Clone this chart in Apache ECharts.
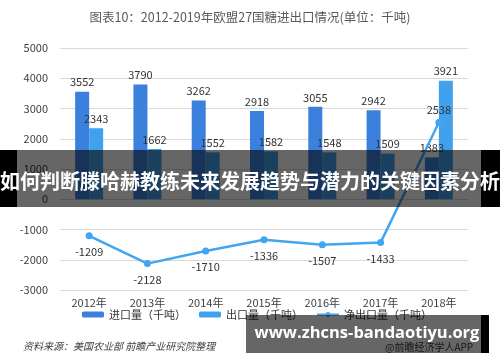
<!DOCTYPE html>
<html>
<head>
<meta charset="utf-8">
<script src="https://cdn.jsdelivr.net/npm/echarts@6/dist/echarts.min.js"></script>
<style>
html,body{margin:0;padding:0;background:#fff;}
#main{width:500px;height:362px;}
</style>
</head>
<body>
<div id="main"></div>
<script>
var categories = ['2012年','2013年','2014年','2015年','2016年','2017年','2018年'];
var importVals = [3552, 3790, 3262, 2918, 3055, 2942, 1383];
var exportVals = [2343, 1662, 1552, 1582, 1548, 1509, 3921];
var netVals = [-1209, -2128, -1710, -1336, -1507, -1433, 2538];
var seriesNames = ['进口量（千吨）', '出口量（千吨）', '净出口量（千吨）'];
var titleText = '图表10：2012-2019年欧盟27国糖进出口情况(单位：千吨)';
var sourceText = '资料来源：美国农业部 前瞻产业研究院整理';
var brandText = '@前瞻经济学人APP';
var bannerText = '如何判断滕哈赫教练未来发展趋势与潜力的关键因素分析';
var urlText = 'www.zhcns-bandaotiyu.org';

var FONT = '"Noto Sans CJK SC", "Noto Sans", sans-serif';
var chart = echarts.init(document.getElementById('main'), null, {renderer: 'canvas'});

var netData = netVals.map(function (v, i) {
  return (i === netVals.length - 1) ? {value: v, label: {position: 'top', distance: 4}} : v;
});

chart.setOption({
  animation: false,
  backgroundColor: '#ffffff',
  textStyle: {fontFamily: FONT},
  title: {
    text: titleText,
    left: 'center',
    top: 6,
    textStyle: {fontSize: 12.5, fontWeight: 'normal', color: '#595959', fontFamily: FONT}
  },
  grid: {left: 60, right: 32, top: 48, bottom: 72, containLabel: false},
  legend: {
    data: seriesNames,
    left: 77,
    top: 304,
    itemWidth: 22,
    itemHeight: 6,
    itemGap: 13,
    textStyle: {fontSize: 11, color: '#333', fontFamily: FONT}
  },
  xAxis: {
    type: 'category',
    data: categories,
    axisLine: {onZero: true, lineStyle: {color: '#d9d9d9'}},
    axisTick: {show: false},
    axisLabel: {fontSize: 11, color: '#404040', margin: 7, fontFamily: FONT}
  },
  yAxis: {
    type: 'value',
    min: -3000,
    max: 5000,
    interval: 1000,
    axisLine: {show: false},
    axisTick: {show: false},
    axisLabel: {fontSize: 11, color: '#404040', margin: 12, fontFamily: FONT,
      formatter: function (v) { return String(v); }},
    splitLine: {lineStyle: {color: '#d9d9d9', width: 1}}
  },
  series: [
    {
      name: seriesNames[0],
      type: 'bar',
      data: importVals,
      barWidth: 14,
      barGap: '0%',
      itemStyle: {color: '#3c80dd'},
      label: {show: true, position: 'top', fontSize: 11, color: '#333', distance: 4}
    },
    {
      name: seriesNames[1],
      type: 'bar',
      data: exportVals,
      barWidth: 14,
      barGap: '0%',
      itemStyle: {color: '#42a1ec'},
      label: {show: true, position: 'top', fontSize: 11, color: '#333', distance: 4}
    },
    {
      name: seriesNames[2],
      type: 'line',
      data: netData,
      symbol: 'circle',
      symbolSize: 7,
      lineStyle: {color: '#42a5f0', width: 2.5},
      itemStyle: {color: '#42a5f0'},
      label: {show: true, position: 'bottom', fontSize: 11, color: '#333', distance: 7},
      z: 5
    }
  ],
  graphic: [
    {type: 'text', left: 23, top: 341, style: {text: sourceText, fontStyle: 'italic', fontSize: 10, fontFamily: FONT, fill: '#404040'}},
    {type: 'text', left: 385, top: 342, style: {text: brandText, fontSize: 10, fontFamily: FONT, fill: '#404040'}},
    {type: 'rect', shape: {x: 0, y: 150, width: 17, height: 57}, style: {fill: '#000'}, z: 100},
    {type: 'rect', shape: {x: 481, y: 150, width: 19, height: 57}, style: {fill: '#000'}, z: 100},
    {type: 'rect', shape: {x: 17, y: 150, width: 464, height: 57}, style: {fill: 'rgba(0,0,0,0.6)'}, z: 100},
    {type: 'text', x: 250, y: 181, style: {text: bannerText, fontSize: 20, fontWeight: 'bold', fontFamily: FONT, fill: '#fff', align: 'center', verticalAlign: 'middle'}, z: 101},
    {type: 'rect', shape: {x: 246, y: 315, width: 235, height: 38}, style: {fill: 'rgba(0,0,0,0.6)'}, z: 100},
    {type: 'rect', shape: {x: 481, y: 315, width: 8, height: 38}, style: {fill: '#000'}, z: 100},
    {type: 'text', x: 367, y: 333, style: {text: urlText, fontSize: 16.5, fontWeight: 'bold', fontFamily: '"Open Sans", sans-serif', fill: '#fff', align: 'center', verticalAlign: 'middle'}, z: 101}
  ]
});
</script>
</body>
</html>
